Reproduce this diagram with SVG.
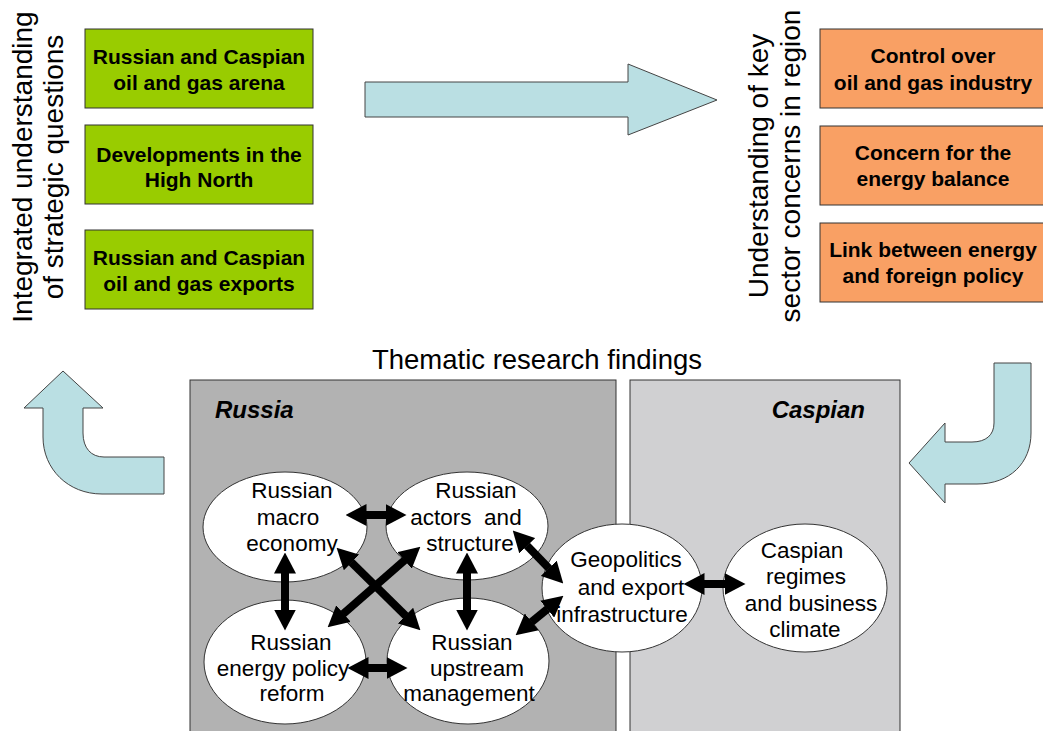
<svg xmlns="http://www.w3.org/2000/svg" width="1043" height="731" viewBox="0 0 1043 731">
<style>
text{font-family:"Liberation Sans",Arial,sans-serif;fill:#000}
.box text{font-size:21px;font-weight:bold;text-anchor:middle}
.g rect{fill:#99CC00;stroke:#333;stroke-width:1}
.o rect{fill:#F9A064;stroke:#333;stroke-width:1}
.big{fill:#BADFE3;stroke:#444;stroke-width:1}
.side{font-size:28px;text-anchor:middle}
.ell ellipse{fill:#fff;stroke:#333;stroke-width:1}
.ell text{font-size:22.5px;text-anchor:middle}
.dbl{stroke:#000;stroke-width:8;fill:none;marker-start:url(#h);marker-end:url(#h)}
</style>
<defs>
<marker id="h" markerUnits="userSpaceOnUse" markerWidth="21" markerHeight="22" viewBox="0 0 21 22" refX="0.5" refY="11" orient="auto-start-reverse"><path d="M0,0 L21,11 L0,22 Z" fill="#000"/></marker>
</defs>
<rect width="1043" height="731" fill="#fff"/>

<g id="label-left"><text class="side" transform="translate(32,167) rotate(-90)"><tspan x="0" y="0">Integrated understanding</tspan><tspan x="0" y="31">of strategic questions</tspan></text></g>
<g id="label-right"><text class="side" transform="translate(768,166) rotate(-90)"><tspan x="0" y="0">Understanding of key</tspan><tspan x="0" y="32">sector concerns in region</tspan></text></g>

<g id="g1" class="box g"><rect x="85" y="29" width="228" height="79"/><text><tspan x="199" y="64">Russian and Caspian</tspan><tspan x="199" y="90">oil and gas arena</tspan></text></g>
<g id="g2" class="box g"><rect x="85" y="125" width="228" height="79"/><text><tspan x="199" y="162">Developments in the</tspan><tspan x="199" y="187">High North</tspan></text></g>
<g id="g3" class="box g"><rect x="85" y="230" width="228" height="79"/><text><tspan x="199" y="265">Russian and Caspian</tspan><tspan x="199" y="291">oil and gas exports</tspan></text></g>

<g id="o1" class="box o"><rect x="820" y="29" width="230" height="79"/><text><tspan x="933" y="63">Control over</tspan><tspan x="933" y="90">oil and gas industry</tspan></text></g>
<g id="o2" class="box o"><rect x="820" y="126" width="230" height="79"/><text><tspan x="933" y="160">Concern for the</tspan><tspan x="933" y="186">energy balance</tspan></text></g>
<g id="o3" class="box o"><rect x="820" y="223" width="230" height="79"/><text><tspan x="933" y="257">Link between energy</tspan><tspan x="933" y="283">and foreign policy</tspan></text></g>

<g id="flow-arrows">
<path class="big" d="M365,82 L628,82 L628,64 L717,100 L628,135 L628,117 L365,117 Z"/>
<path class="big" d="M909,463 L945,423 L945,442 L972,442 C986,442 994,435 994,423 L994,363 L1031,363 L1031,433 C1031,463 1010,484 977,484 L945,484 L945,503 Z"/>
<path class="big" d="M63,371 L103,408 L83,408 L83,433 C83,448 91,457 104,457 L164,457 L164,494 L102,494 C68,494 43,469 43,437 L43,408 L24,408 Z"/>
</g>

<text x="537" y="369" font-size="27.5" text-anchor="middle">Thematic research findings</text>

<g id="russia-panel"><rect x="190" y="380" width="426" height="360" fill="#B2B2B2" stroke="#333" stroke-width="1"/><text x="215" y="418" font-size="24" font-weight="bold" font-style="italic">Russia</text></g>
<g id="caspian-panel"><rect x="630" y="380" width="270" height="360" fill="#D0D0D2" stroke="#333" stroke-width="1"/><text x="865" y="418" font-size="24" font-weight="bold" font-style="italic" text-anchor="end">Caspian</text></g>

<g id="macro" class="ell"><ellipse cx="285" cy="527" rx="82" ry="55"/><text><tspan x="292" y="498">Russian</tspan><tspan x="288" y="525">macro</tspan><tspan x="292" y="551">economy</tspan></text></g>
<g id="actors" class="ell"><ellipse cx="467" cy="526" rx="81" ry="54"/><text><tspan x="476" y="498">Russian</tspan><tspan x="466" y="525">actors&#160; and</tspan><tspan x="470" y="551">structure</tspan></text></g>
<g id="policy" class="ell"><ellipse cx="285" cy="662" rx="81" ry="62"/><text><tspan x="291" y="650">Russian</tspan><tspan x="283" y="676">energy policy</tspan><tspan x="292" y="701">reform</tspan></text></g>
<g id="upstream" class="ell"><ellipse cx="468" cy="661" rx="81" ry="63"/><text><tspan x="472" y="650">Russian</tspan><tspan x="477" y="676">upstream</tspan><tspan x="469" y="701">management</tspan></text></g>
<g id="geo" class="ell"><ellipse cx="622" cy="588" rx="80" ry="64"/><text><tspan x="626" y="567">Geopolitics</tspan><tspan x="631" y="595">and export</tspan><tspan x="622" y="622">infrastructure</tspan></text></g>
<g id="caspreg" class="ell"><ellipse cx="805" cy="588" rx="82" ry="64"/><text><tspan x="802" y="558">Caspian</tspan><tspan x="806" y="584">regimes</tspan><tspan x="811" y="611">and business</tspan><tspan x="805" y="637">climate</tspan></text></g>

<g id="connectors">
<line class="dbl" x1="366" y1="515" x2="386" y2="515"/>
<line class="dbl" x1="368" y1="668" x2="387" y2="668"/>
<line class="dbl" x1="704" y1="584" x2="725" y2="584"/>
<line class="dbl" x1="285" y1="573" x2="285" y2="610"/>
<line class="dbl" x1="467" y1="573" x2="467" y2="610"/>
<line class="dbl" x1="351.2" y1="562.1" x2="405.8" y2="615.9"/>
<line class="dbl" x1="343.1" y1="613.9" x2="404.9" y2="560.1"/>
<line class="dbl" x1="526.9" y1="545.4" x2="549.1" y2="568.6"/>
<line class="dbl" x1="531.4" y1="622.2" x2="547.6" y2="608.8"/>
</g>
</svg>
